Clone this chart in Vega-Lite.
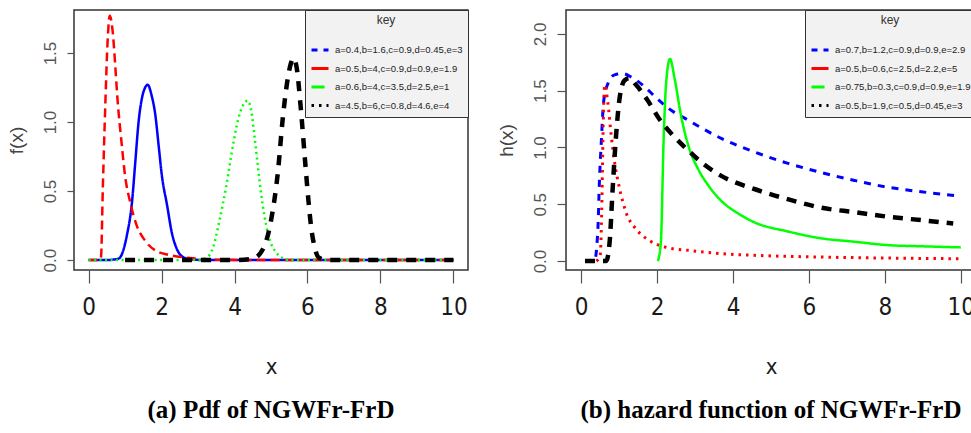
{
  "$schema": "https://vega.github.io/schema/vega-lite/v6.json",
  "background": "white",
  "padding": {"left": 6, "top": 8, "right": 0, "bottom": 0},
  "spacing": 26,
  "resolve": {"scale": {"x": "independent", "y": "independent", "color": "independent", "strokeDash": "independent"}, "axis": {"x": "independent", "y": "independent"}, "legend": {"color": "independent", "strokeDash": "independent"}},
  "datasets": {
    "pdf": [
      {"s": "a=0.4,b=1.6,c=0.9,d=0.45,e=3", "x": 0, "y": 0},
      {"s": "a=0.4,b=1.6,c=0.9,d=0.45,e=3", "x": 0.5, "y": 0},
      {"s": "a=0.4,b=1.6,c=0.9,d=0.45,e=3", "x": 0.82, "y": 0.01},
      {"s": "a=0.4,b=1.6,c=0.9,d=0.45,e=3", "x": 1.05, "y": 0.18},
      {"s": "a=0.4,b=1.6,c=0.9,d=0.45,e=3", "x": 1.19, "y": 0.42},
      {"s": "a=0.4,b=1.6,c=0.9,d=0.45,e=3", "x": 1.28, "y": 0.71},
      {"s": "a=0.4,b=1.6,c=0.9,d=0.45,e=3", "x": 1.37, "y": 1.0},
      {"s": "a=0.4,b=1.6,c=0.9,d=0.45,e=3", "x": 1.46, "y": 1.17},
      {"s": "a=0.4,b=1.6,c=0.9,d=0.45,e=3", "x": 1.55, "y": 1.25},
      {"s": "a=0.4,b=1.6,c=0.9,d=0.45,e=3", "x": 1.62, "y": 1.27},
      {"s": "a=0.4,b=1.6,c=0.9,d=0.45,e=3", "x": 1.73, "y": 1.19},
      {"s": "a=0.4,b=1.6,c=0.9,d=0.45,e=3", "x": 1.83, "y": 1.05},
      {"s": "a=0.4,b=1.6,c=0.9,d=0.45,e=3", "x": 1.92, "y": 0.83},
      {"s": "a=0.4,b=1.6,c=0.9,d=0.45,e=3", "x": 2.01, "y": 0.61},
      {"s": "a=0.4,b=1.6,c=0.9,d=0.45,e=3", "x": 2.15, "y": 0.40},
      {"s": "a=0.4,b=1.6,c=0.9,d=0.45,e=3", "x": 2.28, "y": 0.20},
      {"s": "a=0.4,b=1.6,c=0.9,d=0.45,e=3", "x": 2.42, "y": 0.08},
      {"s": "a=0.4,b=1.6,c=0.9,d=0.45,e=3", "x": 2.6, "y": 0.02},
      {"s": "a=0.4,b=1.6,c=0.9,d=0.45,e=3", "x": 2.8, "y": 0.005},
      {"s": "a=0.4,b=1.6,c=0.9,d=0.45,e=3", "x": 3.2, "y": 0},
      {"s": "a=0.4,b=1.6,c=0.9,d=0.45,e=3", "x": 5, "y": 0},
      {"s": "a=0.4,b=1.6,c=0.9,d=0.45,e=3", "x": 7.5, "y": 0},
      {"s": "a=0.4,b=1.6,c=0.9,d=0.45,e=3", "x": 10, "y": 0},

      {"s": "a=0.5,b=4,c=0.9,d=0.9,e=1.9", "x": 0, "y": 0},
      {"s": "a=0.5,b=4,c=0.9,d=0.9,e=1.9", "x": 0.3, "y": 0},
      {"s": "a=0.5,b=4,c=0.9,d=0.9,e=1.9", "x": 0.34, "y": 0.02},
      {"s": "a=0.5,b=4,c=0.9,d=0.9,e=1.9", "x": 0.39, "y": 0.52},
      {"s": "a=0.5,b=4,c=0.9,d=0.9,e=1.9", "x": 0.46, "y": 1.14},
      {"s": "a=0.5,b=4,c=0.9,d=0.9,e=1.9", "x": 0.52, "y": 1.58},
      {"s": "a=0.5,b=4,c=0.9,d=0.9,e=1.9", "x": 0.58, "y": 1.77},
      {"s": "a=0.5,b=4,c=0.9,d=0.9,e=1.9", "x": 0.67, "y": 1.63},
      {"s": "a=0.5,b=4,c=0.9,d=0.9,e=1.9", "x": 0.73, "y": 1.41},
      {"s": "a=0.5,b=4,c=0.9,d=0.9,e=1.9", "x": 0.8, "y": 1.14},
      {"s": "a=0.5,b=4,c=0.9,d=0.9,e=1.9", "x": 0.9, "y": 0.86},
      {"s": "a=0.5,b=4,c=0.9,d=0.9,e=1.9", "x": 1.0, "y": 0.61},
      {"s": "a=0.5,b=4,c=0.9,d=0.9,e=1.9", "x": 1.14, "y": 0.42},
      {"s": "a=0.5,b=4,c=0.9,d=0.9,e=1.9", "x": 1.32, "y": 0.25},
      {"s": "a=0.5,b=4,c=0.9,d=0.9,e=1.9", "x": 1.55, "y": 0.14},
      {"s": "a=0.5,b=4,c=0.9,d=0.9,e=1.9", "x": 1.83, "y": 0.07},
      {"s": "a=0.5,b=4,c=0.9,d=0.9,e=1.9", "x": 2.24, "y": 0.035},
      {"s": "a=0.5,b=4,c=0.9,d=0.9,e=1.9", "x": 2.79, "y": 0.015},
      {"s": "a=0.5,b=4,c=0.9,d=0.9,e=1.9", "x": 3.5, "y": 0.003},
      {"s": "a=0.5,b=4,c=0.9,d=0.9,e=1.9", "x": 5, "y": 0},
      {"s": "a=0.5,b=4,c=0.9,d=0.9,e=1.9", "x": 7.5, "y": 0},
      {"s": "a=0.5,b=4,c=0.9,d=0.9,e=1.9", "x": 10, "y": 0},

      {"s": "a=0.6,b=4,c=3.5,d=2.5,e=1", "x": 0, "y": 0},
      {"s": "a=0.6,b=4,c=3.5,d=2.5,e=1", "x": 1.5, "y": 0},
      {"s": "a=0.6,b=4,c=3.5,d=2.5,e=1", "x": 3, "y": 0},
      {"s": "a=0.6,b=4,c=3.5,d=2.5,e=1", "x": 3.25, "y": 0.02},
      {"s": "a=0.6,b=4,c=3.5,d=2.5,e=1", "x": 3.41, "y": 0.09},
      {"s": "a=0.6,b=4,c=3.5,d=2.5,e=1", "x": 3.59, "y": 0.29},
      {"s": "a=0.6,b=4,c=3.5,d=2.5,e=1", "x": 3.77, "y": 0.53},
      {"s": "a=0.6,b=4,c=3.5,d=2.5,e=1", "x": 3.95, "y": 0.82},
      {"s": "a=0.6,b=4,c=3.5,d=2.5,e=1", "x": 4.1, "y": 1.02},
      {"s": "a=0.6,b=4,c=3.5,d=2.5,e=1", "x": 4.23, "y": 1.12},
      {"s": "a=0.6,b=4,c=3.5,d=2.5,e=1", "x": 4.36, "y": 1.155},
      {"s": "a=0.6,b=4,c=3.5,d=2.5,e=1", "x": 4.46, "y": 1.08},
      {"s": "a=0.6,b=4,c=3.5,d=2.5,e=1", "x": 4.55, "y": 0.89},
      {"s": "a=0.6,b=4,c=3.5,d=2.5,e=1", "x": 4.64, "y": 0.68},
      {"s": "a=0.6,b=4,c=3.5,d=2.5,e=1", "x": 4.73, "y": 0.48},
      {"s": "a=0.6,b=4,c=3.5,d=2.5,e=1", "x": 4.82, "y": 0.32},
      {"s": "a=0.6,b=4,c=3.5,d=2.5,e=1", "x": 4.91, "y": 0.2},
      {"s": "a=0.6,b=4,c=3.5,d=2.5,e=1", "x": 5.0, "y": 0.12},
      {"s": "a=0.6,b=4,c=3.5,d=2.5,e=1", "x": 5.1, "y": 0.07},
      {"s": "a=0.6,b=4,c=3.5,d=2.5,e=1", "x": 5.28, "y": 0.02},
      {"s": "a=0.6,b=4,c=3.5,d=2.5,e=1", "x": 5.5, "y": 0},
      {"s": "a=0.6,b=4,c=3.5,d=2.5,e=1", "x": 7.5, "y": 0},
      {"s": "a=0.6,b=4,c=3.5,d=2.5,e=1", "x": 10, "y": 0},

      {"s": "a=4.5,b=6,c=0.8,d=4.6,e=4", "x": 1.0, "y": 0},
      {"s": "a=4.5,b=6,c=0.8,d=4.6,e=4", "x": 2.5, "y": 0},
      {"s": "a=4.5,b=6,c=0.8,d=4.6,e=4", "x": 4.0, "y": 0},
      {"s": "a=4.5,b=6,c=0.8,d=4.6,e=4", "x": 4.5, "y": 0.01},
      {"s": "a=4.5,b=6,c=0.8,d=4.6,e=4", "x": 4.78, "y": 0.08},
      {"s": "a=4.5,b=6,c=0.8,d=4.6,e=4", "x": 5.01, "y": 0.3},
      {"s": "a=4.5,b=6,c=0.8,d=4.6,e=4", "x": 5.19, "y": 0.64},
      {"s": "a=4.5,b=6,c=0.8,d=4.6,e=4", "x": 5.32, "y": 1.02},
      {"s": "a=4.5,b=6,c=0.8,d=4.6,e=4", "x": 5.45, "y": 1.3},
      {"s": "a=4.5,b=6,c=0.8,d=4.6,e=4", "x": 5.55, "y": 1.43},
      {"s": "a=4.5,b=6,c=0.8,d=4.6,e=4", "x": 5.61, "y": 1.465},
      {"s": "a=4.5,b=6,c=0.8,d=4.6,e=4", "x": 5.7, "y": 1.4},
      {"s": "a=4.5,b=6,c=0.8,d=4.6,e=4", "x": 5.82, "y": 1.09},
      {"s": "a=4.5,b=6,c=0.8,d=4.6,e=4", "x": 5.94, "y": 0.7},
      {"s": "a=4.5,b=6,c=0.8,d=4.6,e=4", "x": 6.03, "y": 0.42},
      {"s": "a=4.5,b=6,c=0.8,d=4.6,e=4", "x": 6.1, "y": 0.24},
      {"s": "a=4.5,b=6,c=0.8,d=4.6,e=4", "x": 6.2, "y": 0.09},
      {"s": "a=4.5,b=6,c=0.8,d=4.6,e=4", "x": 6.3, "y": 0.02},
      {"s": "a=4.5,b=6,c=0.8,d=4.6,e=4", "x": 6.5, "y": 0},
      {"s": "a=4.5,b=6,c=0.8,d=4.6,e=4", "x": 8, "y": 0},
      {"s": "a=4.5,b=6,c=0.8,d=4.6,e=4", "x": 10, "y": 0}
    ],
    "haz": [
      {"s": "a=0.7,b=1.2,c=0.9,d=0.9,e=2.9", "x": 0.1, "y": 0},
      {"s": "a=0.7,b=1.2,c=0.9,d=0.9,e=2.9", "x": 0.35, "y": 0},
      {"s": "a=0.7,b=1.2,c=0.9,d=0.9,e=2.9", "x": 0.44, "y": 0.28},
      {"s": "a=0.7,b=1.2,c=0.9,d=0.9,e=2.9", "x": 0.48, "y": 0.7},
      {"s": "a=0.7,b=1.2,c=0.9,d=0.9,e=2.9", "x": 0.53, "y": 1.05},
      {"s": "a=0.7,b=1.2,c=0.9,d=0.9,e=2.9", "x": 0.59, "y": 1.4},
      {"s": "a=0.7,b=1.2,c=0.9,d=0.9,e=2.9", "x": 0.7, "y": 1.56},
      {"s": "a=0.7,b=1.2,c=0.9,d=0.9,e=2.9", "x": 0.88, "y": 1.64},
      {"s": "a=0.7,b=1.2,c=0.9,d=0.9,e=2.9", "x": 1.1, "y": 1.65},
      {"s": "a=0.7,b=1.2,c=0.9,d=0.9,e=2.9", "x": 1.32, "y": 1.62},
      {"s": "a=0.7,b=1.2,c=0.9,d=0.9,e=2.9", "x": 1.62, "y": 1.55},
      {"s": "a=0.7,b=1.2,c=0.9,d=0.9,e=2.9", "x": 1.97, "y": 1.44},
      {"s": "a=0.7,b=1.2,c=0.9,d=0.9,e=2.9", "x": 2.32, "y": 1.34},
      {"s": "a=0.7,b=1.2,c=0.9,d=0.9,e=2.9", "x": 2.82, "y": 1.24},
      {"s": "a=0.7,b=1.2,c=0.9,d=0.9,e=2.9", "x": 3.69, "y": 1.08},
      {"s": "a=0.7,b=1.2,c=0.9,d=0.9,e=2.9", "x": 4.57, "y": 0.96},
      {"s": "a=0.7,b=1.2,c=0.9,d=0.9,e=2.9", "x": 5.45, "y": 0.86},
      {"s": "a=0.7,b=1.2,c=0.9,d=0.9,e=2.9", "x": 6.32, "y": 0.78},
      {"s": "a=0.7,b=1.2,c=0.9,d=0.9,e=2.9", "x": 7.2, "y": 0.71},
      {"s": "a=0.7,b=1.2,c=0.9,d=0.9,e=2.9", "x": 8.08, "y": 0.65},
      {"s": "a=0.7,b=1.2,c=0.9,d=0.9,e=2.9", "x": 8.96, "y": 0.61},
      {"s": "a=0.7,b=1.2,c=0.9,d=0.9,e=2.9", "x": 10, "y": 0.57},

      {"s": "a=0.5,b=0.6,c=2.5,d=2.2,e=5", "x": 0.4, "y": 0},
      {"s": "a=0.5,b=0.6,c=2.5,d=2.2,e=5", "x": 0.5, "y": 0.05},
      {"s": "a=0.5,b=0.6,c=2.5,d=2.2,e=5", "x": 0.55, "y": 0.6},
      {"s": "a=0.5,b=0.6,c=2.5,d=2.2,e=5", "x": 0.58, "y": 1.2},
      {"s": "a=0.5,b=0.6,c=2.5,d=2.2,e=5", "x": 0.62, "y": 1.55},
      {"s": "a=0.5,b=0.6,c=2.5,d=2.2,e=5", "x": 0.7, "y": 1.4},
      {"s": "a=0.5,b=0.6,c=2.5,d=2.2,e=5", "x": 0.79, "y": 1.11},
      {"s": "a=0.5,b=0.6,c=2.5,d=2.2,e=5", "x": 0.88, "y": 0.87},
      {"s": "a=0.5,b=0.6,c=2.5,d=2.2,e=5", "x": 1.01, "y": 0.64},
      {"s": "a=0.5,b=0.6,c=2.5,d=2.2,e=5", "x": 1.18, "y": 0.43},
      {"s": "a=0.5,b=0.6,c=2.5,d=2.2,e=5", "x": 1.45, "y": 0.28},
      {"s": "a=0.5,b=0.6,c=2.5,d=2.2,e=5", "x": 1.8, "y": 0.18},
      {"s": "a=0.5,b=0.6,c=2.5,d=2.2,e=5", "x": 2.24, "y": 0.12},
      {"s": "a=0.5,b=0.6,c=2.5,d=2.2,e=5", "x": 2.82, "y": 0.094},
      {"s": "a=0.5,b=0.6,c=2.5,d=2.2,e=5", "x": 3.7, "y": 0.065},
      {"s": "a=0.5,b=0.6,c=2.5,d=2.2,e=5", "x": 4.57, "y": 0.05},
      {"s": "a=0.5,b=0.6,c=2.5,d=2.2,e=5", "x": 6.32, "y": 0.035},
      {"s": "a=0.5,b=0.6,c=2.5,d=2.2,e=5", "x": 8.08, "y": 0.026},
      {"s": "a=0.5,b=0.6,c=2.5,d=2.2,e=5", "x": 10, "y": 0.02},

      {"s": "a=0.75,b=0.3,c=0.9,d=0.9,e=1.9", "x": 2.02, "y": 0},
      {"s": "a=0.75,b=0.3,c=0.9,d=0.9,e=1.9", "x": 2.1, "y": 0.17},
      {"s": "a=0.75,b=0.3,c=0.9,d=0.9,e=1.9", "x": 2.17, "y": 1.05},
      {"s": "a=0.75,b=0.3,c=0.9,d=0.9,e=1.9", "x": 2.24, "y": 1.58},
      {"s": "a=0.75,b=0.3,c=0.9,d=0.9,e=1.9", "x": 2.34, "y": 1.78},
      {"s": "a=0.75,b=0.3,c=0.9,d=0.9,e=1.9", "x": 2.46, "y": 1.61},
      {"s": "a=0.75,b=0.3,c=0.9,d=0.9,e=1.9", "x": 2.63, "y": 1.28},
      {"s": "a=0.75,b=0.3,c=0.9,d=0.9,e=1.9", "x": 2.82, "y": 1.02},
      {"s": "a=0.75,b=0.3,c=0.9,d=0.9,e=1.9", "x": 3.08, "y": 0.81},
      {"s": "a=0.75,b=0.3,c=0.9,d=0.9,e=1.9", "x": 3.34, "y": 0.67},
      {"s": "a=0.75,b=0.3,c=0.9,d=0.9,e=1.9", "x": 3.69, "y": 0.53},
      {"s": "a=0.75,b=0.3,c=0.9,d=0.9,e=1.9", "x": 4.13, "y": 0.42},
      {"s": "a=0.75,b=0.3,c=0.9,d=0.9,e=1.9", "x": 4.57, "y": 0.34},
      {"s": "a=0.75,b=0.3,c=0.9,d=0.9,e=1.9", "x": 5.45, "y": 0.26},
      {"s": "a=0.75,b=0.3,c=0.9,d=0.9,e=1.9", "x": 6.32, "y": 0.2},
      {"s": "a=0.75,b=0.3,c=0.9,d=0.9,e=1.9", "x": 7.2, "y": 0.17},
      {"s": "a=0.75,b=0.3,c=0.9,d=0.9,e=1.9", "x": 8.08, "y": 0.14},
      {"s": "a=0.75,b=0.3,c=0.9,d=0.9,e=1.9", "x": 8.96, "y": 0.13},
      {"s": "a=0.75,b=0.3,c=0.9,d=0.9,e=1.9", "x": 10, "y": 0.12},

      {"s": "a=0.5,b=1.9,c=0.5,d=0.45,e=3", "x": 0.1, "y": 0},
      {"s": "a=0.5,b=1.9,c=0.5,d=0.45,e=3", "x": 0.4, "y": 0},
      {"s": "a=0.5,b=1.9,c=0.5,d=0.45,e=3", "x": 0.66, "y": 0},
      {"s": "a=0.5,b=1.9,c=0.5,d=0.45,e=3", "x": 0.75, "y": 0.17},
      {"s": "a=0.5,b=1.9,c=0.5,d=0.45,e=3", "x": 0.83, "y": 0.64},
      {"s": "a=0.5,b=1.9,c=0.5,d=0.45,e=3", "x": 0.92, "y": 1.11},
      {"s": "a=0.5,b=1.9,c=0.5,d=0.45,e=3", "x": 1.01, "y": 1.43},
      {"s": "a=0.5,b=1.9,c=0.5,d=0.45,e=3", "x": 1.14, "y": 1.59},
      {"s": "a=0.5,b=1.9,c=0.5,d=0.45,e=3", "x": 1.27, "y": 1.61},
      {"s": "a=0.5,b=1.9,c=0.5,d=0.45,e=3", "x": 1.45, "y": 1.55},
      {"s": "a=0.5,b=1.9,c=0.5,d=0.45,e=3", "x": 1.74, "y": 1.42},
      {"s": "a=0.5,b=1.9,c=0.5,d=0.45,e=3", "x": 2.08, "y": 1.24},
      {"s": "a=0.5,b=1.9,c=0.5,d=0.45,e=3", "x": 2.41, "y": 1.11},
      {"s": "a=0.5,b=1.9,c=0.5,d=0.45,e=3", "x": 2.8, "y": 0.98},
      {"s": "a=0.5,b=1.9,c=0.5,d=0.45,e=3", "x": 3.2, "y": 0.86},
      {"s": "a=0.5,b=1.9,c=0.5,d=0.45,e=3", "x": 3.69, "y": 0.75},
      {"s": "a=0.5,b=1.9,c=0.5,d=0.45,e=3", "x": 4.6, "y": 0.63},
      {"s": "a=0.5,b=1.9,c=0.5,d=0.45,e=3", "x": 5.6, "y": 0.53},
      {"s": "a=0.5,b=1.9,c=0.5,d=0.45,e=3", "x": 6.32, "y": 0.47},
      {"s": "a=0.5,b=1.9,c=0.5,d=0.45,e=3", "x": 7.2, "y": 0.43},
      {"s": "a=0.5,b=1.9,c=0.5,d=0.45,e=3", "x": 8.08, "y": 0.39},
      {"s": "a=0.5,b=1.9,c=0.5,d=0.45,e=3", "x": 8.96, "y": 0.36},
      {"s": "a=0.5,b=1.9,c=0.5,d=0.45,e=3", "x": 9.8, "y": 0.33}
    ]
  },
  "config": {
    "view": {"stroke": "#333333", "strokeWidth": 1.5},
    "axis": {"domain": false, "grid": false, "tickColor": "#555555", "tickWidth": 1.2, "titleFontWeight": "normal"},
    "axisX": {"tickSize": 13, "labelFont": "DejaVu Sans Condensed, Liberation Sans Narrow, sans-serif", "labelFontSize": 24, "labelColor": "#1a1a1a", "labelPadding": 12, "titleFont": "DejaVu Sans Condensed, Liberation Sans Narrow, sans-serif", "titleFontSize": 22, "titleColor": "#1a1a1a", "titlePadding": 37},
    "axisY": {"labelFont": "Liberation Sans", "labelFontSize": 17, "labelColor": "#555555", "labelAngle": -90, "labelAlign": "center", "labelBaseline": "bottom", "labelPadding": 8, "titleFont": "Liberation Sans", "titleFontSize": 19, "titleColor": "#444444", "titlePadding": 15},
    "legend": {"orient": "top-right", "offset": 0, "fillColor": "#f2f2f2", "strokeColor": "#333333", "padding": 5, "titleAnchor": "middle", "titleFont": "Liberation Sans", "titleFontSize": 12, "titleFontWeight": "normal", "titleColor": "#333333", "titlePadding": 13, "labelFont": "Liberation Sans", "labelFontSize": 9.5, "labelColor": "#222222", "labelOffset": 5, "labelLimit": 400, "symbolType": "stroke", "symbolSize": 289, "symbolStrokeWidth": 3, "rowPadding": 2.5}
  },
  "hconcat": [
    {
      "width": 394,
      "height": 260,
      "data": {"name": "pdf"},
      "title": {"text": "(a) Pdf of NGWFr-FrD", "orient": "bottom", "frame": "group", "anchor": "middle", "font": "Liberation Serif", "fontSize": 25, "fontWeight": "bold", "color": "#000000", "offset": 21},
      "resolve": {"scale": {"color": "independent", "strokeDash": "independent"}},
      "encoding": {
        "x": {"field": "x", "type": "quantitative", "scale": {"domain": [-0.4, 10.4], "nice": false, "zero": false}, "axis": {"values": [0, 2, 4, 6, 8, 10], "title": "x"}},
        "y": {"field": "y", "type": "quantitative", "scale": {"domain": [-0.072, 1.812], "nice": false, "zero": false}, "axis": {"values": [0, 0.5, 1, 1.5], "format": ".1f", "title": "f(x)", "tickSize": 7}}
      },
      "layer": [
        {
          "mark": {"type": "line", "interpolate": "monotone"},
          "encoding": {
            "color": {"field": "s", "type": "nominal", "scale": {"domain": ["a=0.4,b=1.6,c=0.9,d=0.45,e=3", "a=0.5,b=4,c=0.9,d=0.9,e=1.9", "a=0.6,b=4,c=3.5,d=2.5,e=1", "a=4.5,b=6,c=0.8,d=4.6,e=4"], "range": ["#0000ff", "#ff0000", "#00ff00", "#000000"]}, "legend": null},
            "strokeDash": {"field": "s", "type": "nominal", "scale": {"domain": ["a=0.4,b=1.6,c=0.9,d=0.45,e=3", "a=0.5,b=4,c=0.9,d=0.9,e=1.9", "a=0.6,b=4,c=3.5,d=2.5,e=1", "a=4.5,b=6,c=0.8,d=4.6,e=4"], "range": [[1, 0], [9, 5], [2, 3.5], [10, 9]]}, "legend": null},
            "strokeWidth": {"condition": {"test": "datum.s === 'a=4.5,b=6,c=0.8,d=4.6,e=4'", "value": 4.5}, "value": 2.5}
          }
        },
        {
          "transform": [{"filter": "datum.x > 100"}],
          "mark": {"type": "line"},
          "encoding": {
            "color": {"field": "s", "type": "nominal", "scale": {"domain": ["a=0.4,b=1.6,c=0.9,d=0.45,e=3", "a=0.5,b=4,c=0.9,d=0.9,e=1.9", "a=0.6,b=4,c=3.5,d=2.5,e=1", "a=4.5,b=6,c=0.8,d=4.6,e=4"], "range": ["#0000ff", "#ff0000", "#00ff00", "#000000"]}, "legend": {"title": "key", "encode": {"title": {"dy": {"value": 5}}}}},
            "strokeDash": {"field": "s", "type": "nominal", "scale": {"domain": ["a=0.4,b=1.6,c=0.9,d=0.45,e=3", "a=0.5,b=4,c=0.9,d=0.9,e=1.9", "a=0.6,b=4,c=3.5,d=2.5,e=1", "a=4.5,b=6,c=0.8,d=4.6,e=4"], "range": [[6, 6], [1, 0], [13, 30], [2.5, 5]]}, "legend": {"title": "key", "encode": {"title": {"dy": {"value": 5}}}}}
          }
        }
      ]
    },
    {
      "width": 410,
      "height": 260,
      "data": {"name": "haz"},
      "title": {"text": "(b) hazard function of NGWFr-FrD", "orient": "bottom", "frame": "group", "anchor": "middle", "font": "Liberation Serif", "fontSize": 25, "fontWeight": "bold", "color": "#000000", "offset": 21},
      "resolve": {"scale": {"color": "independent", "strokeDash": "independent"}},
      "encoding": {
        "x": {"field": "x", "type": "quantitative", "scale": {"domain": [-0.4, 10.4], "nice": false, "zero": false}, "axis": {"values": [0, 2, 4, 6, 8, 10], "title": "x"}},
        "y": {"field": "y", "type": "quantitative", "scale": {"domain": [-0.079, 2.211], "nice": false, "zero": false}, "axis": {"values": [0, 0.5, 1, 1.5, 2], "format": ".1f", "title": "h(x)", "tickSize": 9}}
      },
      "layer": [
        {
          "mark": {"type": "line", "interpolate": "monotone"},
          "encoding": {
            "color": {"field": "s", "type": "nominal", "scale": {"domain": ["a=0.7,b=1.2,c=0.9,d=0.9,e=2.9", "a=0.5,b=0.6,c=2.5,d=2.2,e=5", "a=0.75,b=0.3,c=0.9,d=0.9,e=1.9", "a=0.5,b=1.9,c=0.5,d=0.45,e=3"], "range": ["#0000ff", "#ff0000", "#00ff00", "#000000"]}, "legend": null},
            "strokeDash": {"field": "s", "type": "nominal", "scale": {"domain": ["a=0.7,b=1.2,c=0.9,d=0.9,e=2.9", "a=0.5,b=0.6,c=2.5,d=2.2,e=5", "a=0.75,b=0.3,c=0.9,d=0.9,e=1.9", "a=0.5,b=1.9,c=0.5,d=0.45,e=3"], "range": [[7, 7], [2.5, 5], [1, 0], [10, 8]]}, "legend": null},
            "strokeWidth": {"condition": [{"test": "datum.s === 'a=0.5,b=1.9,c=0.5,d=0.45,e=3'", "value": 4.5}, {"test": "datum.s === 'a=0.75,b=0.3,c=0.9,d=0.9,e=1.9'", "value": 2.5}], "value": 3}
          }
        },
        {
          "transform": [{"filter": "datum.x > 100"}],
          "mark": {"type": "line"},
          "encoding": {
            "color": {"field": "s", "type": "nominal", "scale": {"domain": ["a=0.7,b=1.2,c=0.9,d=0.9,e=2.9", "a=0.5,b=0.6,c=2.5,d=2.2,e=5", "a=0.75,b=0.3,c=0.9,d=0.9,e=1.9", "a=0.5,b=1.9,c=0.5,d=0.45,e=3"], "range": ["#0000ff", "#ff0000", "#00ff00", "#000000"]}, "legend": {"title": "key", "encode": {"title": {"dy": {"value": 5}}}}},
            "strokeDash": {"field": "s", "type": "nominal", "scale": {"domain": ["a=0.7,b=1.2,c=0.9,d=0.9,e=2.9", "a=0.5,b=0.6,c=2.5,d=2.2,e=5", "a=0.75,b=0.3,c=0.9,d=0.9,e=1.9", "a=0.5,b=1.9,c=0.5,d=0.45,e=3"], "range": [[6, 6], [1, 0], [13, 30], [2.5, 5]]}, "legend": {"title": "key", "encode": {"title": {"dy": {"value": 5}}}}}
          }
        }
      ]
    }
  ]
}
